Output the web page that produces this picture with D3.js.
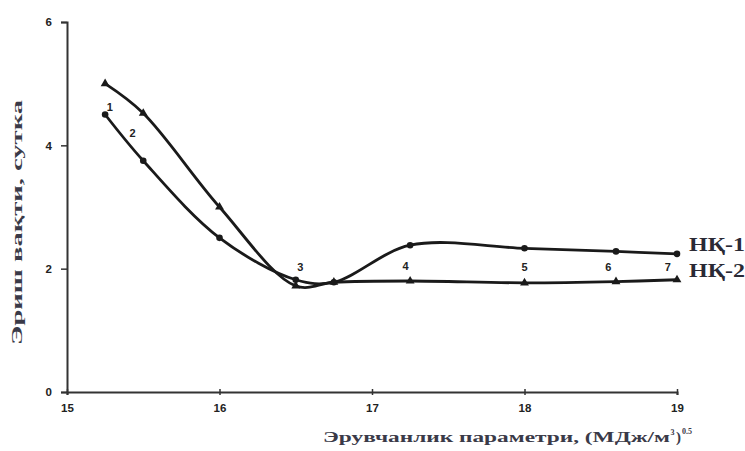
<!DOCTYPE html>
<html>
<head>
<meta charset="utf-8">
<script src="https://cdn.jsdelivr.net/npm/d3@7"></script>
<style>
  body { margin: 0; background: #fff; }
  svg { display: block; }
</style>
</head>
<body>
<svg id="chart" width="745" height="451"></svg>
<script>
// Solubility parameter (x) and dissolution time in days (y)
const xValues = [15.25, 15.5, 16.0, 16.5, 16.75, 17.25, 18.0, 18.6, 19.0];
const nk1 = [4.5, 3.75, 2.5, 1.82, 1.78, 2.38, 2.33, 2.28, 2.24];
const nk2 = [5.0, 4.52, 3.0, 1.72, 1.78, 1.8, 1.77, 1.79, 1.82];
const pointLabels = ["1", "2", "3", "4", "5", "6", "7"];
const pointLabelX = [15.28, 15.43, 16.53, 17.22, 18.0, 18.55, 18.94];
const pointLabelY = [4.56, 4.14, 1.97, 1.98, 1.97, 1.97, 1.97];
const xTicks = [15, 16, 17, 18, 19];
const yTicks = [0, 2, 4, 6];
const seriesNames = ["НҚ-1", "НҚ-2"];

const svg = d3.select("#chart");
const x = d3.scaleLinear().domain([15, 19]).range([67, 677]);
const y = d3.scaleLinear().domain([0, 6]).range([392, 22]);
const ink = "#1a1a1a";
const serif = "Liberation Serif, Times New Roman, serif";
const sans = "Liberation Sans, Arial, sans-serif";

// Axes
const xAxis = svg.append("g").attr("transform", `translate(0,${y(0)})`)
  .call(d3.axisBottom(x).tickValues(xTicks).tickSize(3).tickPadding(9).tickFormat(d3.format("d")));
const yAxis = svg.append("g").attr("transform", `translate(${x(15)},0)`)
  .call(d3.axisLeft(y).tickValues(yTicks).tickSize(6).tickPadding(9).tickFormat(d3.format("d")));
[xAxis, yAxis].forEach(g => {
  g.select(".domain").attr("stroke", "#333").attr("stroke-width", 2);
  g.selectAll(".tick line").attr("stroke", "#333").attr("stroke-width", 1.5);
  g.selectAll(".tick text").attr("fill", "#222")
    .style("font-family", sans).style("font-weight", "bold").style("font-size", "11.5px");
});
xAxis.selectAll(".tick line").attr("y1", -3);

// X axis title (wide serif lettering with superscripts)
const titleStyle = sel => sel.style("font-family", serif).style("font-weight", "bold")
  .attr("fill", "#3a3a48");
svg.append("text").call(titleStyle)
  .attr("x", 323).attr("y", 442).style("font-size", "15px")
  .attr("textLength", 347).attr("lengthAdjust", "spacingAndGlyphs")
  .text("Эрувчанлик параметри, (МДж/м");
svg.append("text").call(titleStyle)
  .attr("x", 670.5).attr("y", 435).style("font-size", "8px").text("3");
svg.append("text").call(titleStyle)
  .attr("x", 676).attr("y", 442).style("font-size", "15px").text(")");
svg.append("text").call(titleStyle)
  .attr("x", 682).attr("y", 434).style("font-size", "8px").text("0.5");

// Y axis title
svg.append("text").call(titleStyle)
  .attr("transform", "translate(22,345) rotate(-90)")
  .style("font-size", "14.5px")
  .attr("textLength", 245).attr("lengthAdjust", "spacingAndGlyphs")
  .text("Эриш вақти, сутка");

// Curves
const line = d3.line().x(d => x(d[0])).y(d => y(d[1])).curve(d3.curveCatmullRom.alpha(0.5));
const s1 = xValues.map((v, i) => [v, nk1[i]]);
const s2 = xValues.map((v, i) => [v, nk2[i]]);
[s1, s2].forEach(s => {
  svg.append("path").datum(s).attr("d", line)
    .attr("fill", "none").attr("stroke", ink).attr("stroke-width", 2.8);
});

// Markers: circles for НҚ-1, triangles for НҚ-2
svg.append("g").selectAll("circle").data(s1).join("circle")
  .attr("cx", d => x(d[0])).attr("cy", d => y(d[1])).attr("r", 3.3).attr("fill", ink);
const tri = d3.symbol().type(d3.symbolTriangle).size(34);
svg.append("g").selectAll("path").data(s2).join("path")
  .attr("d", tri).attr("transform", d => `translate(${x(d[0])},${y(d[1])})`).attr("fill", ink);

// Point numbers
svg.append("g").selectAll("text").data(pointLabels).join("text")
  .attr("x", (d, i) => x(pointLabelX[i])).attr("y", (d, i) => y(pointLabelY[i]))
  .attr("text-anchor", "middle")
  .style("font-family", sans).style("font-weight", "bold").style("font-size", "11px")
  .attr("fill", "#222")
  .text(d => d);

// Series names at the right end
svg.append("g").selectAll("text").data(seriesNames).join("text")
  .attr("x", 689).attr("y", (d, i) => [251, 277][i])
  .style("font-family", serif).style("font-size", "18px").style("font-weight", "bold")
  .attr("fill", "#2a2a35")
  .attr("textLength", 56).attr("lengthAdjust", "spacingAndGlyphs")
  .text(d => d);
</script>
</body>
</html>
